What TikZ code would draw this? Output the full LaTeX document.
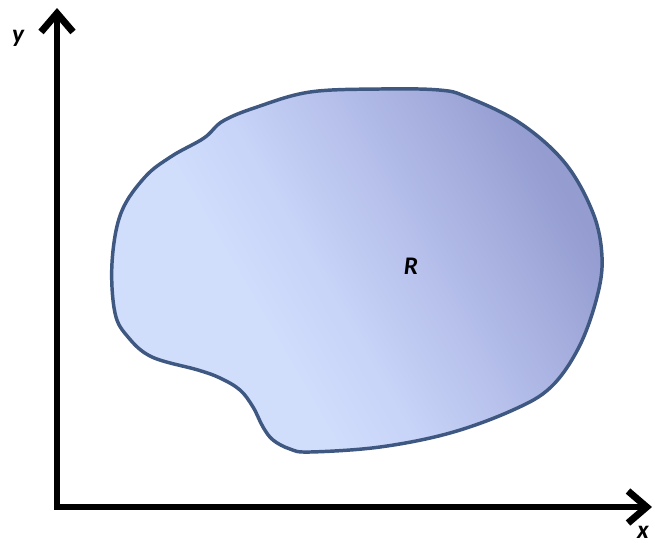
\documentclass[tikz,border=0pt]{standalone}
\usepackage{fontspec}
\setmainfont{Carlito}
\usetikzlibrary{arrows.meta}
\definecolor{blobedge}{RGB}{62,88,130}
\definecolor{blobdark}{RGB}{148,156,208}
\definecolor{blobmid}{RGB}{182,192,235}
\definecolor{blobsoft}{RGB}{200,212,248}
\definecolor{bloblight}{RGB}{208,221,251}
\pgfdeclarehorizontalshading{blobshade}{100bp}{color(0bp)=(bloblight); color(38bp)=(bloblight); color(46bp)=(blobsoft); color(57bp)=(blobmid); color(75bp)=(blobdark); color(100bp)=(blobdark)}
\tikzset{
  axisline/.style={line width=5.2pt, line join=miter,
    {Straight Barb[length=14pt,width=24pt]}-{Straight Barb[length=14pt,width=24pt]}},
  lbl/.style={font=\fontsize{19}{22}\selectfont\bfseries\itshape, inner sep=0pt},
  blob/.style={draw=blobedge, line width=2.6pt, shading=blobshade, shading angle=30}
}
\begin{document}
\begin{tikzpicture}[x=0.75pt,y=-0.75pt]
\useasboundingbox (0,0) rectangle (655,543);
\path[blob] plot[smooth cycle, tension=0.6] coordinates {
 (112,263) (121,213) (145,177) (172,156) (204,138) (223,121)
 (257,107) (310,92) (380,89) (439,90) (467,97) (520,123) (565,163)
 (593,213) (602,257) (597,297) (579,347) (551,387) (513,410) (450,433)
 (380,447) (310,452) (290,449) (273,440) (263,427) (253,407) (240,390)
 (220,378) (198,370) (152,357) (128,337) (115,313)};
\coordinate (O) at (57,507);
\coordinate (ytip) at (57,8);
\coordinate (xtip) at (652,507);
\draw[axisline] (ytip) -- (O) -- (xtip);
\node[lbl] (ylab) at (18,38) {y};
\node[lbl] (xlab) at (643,532) {x};
\node[lbl] (rlab) at (411,266) {R};
\end{tikzpicture}
\end{document}
